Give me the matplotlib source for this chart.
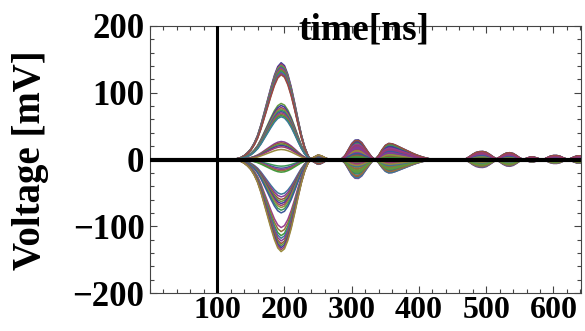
import matplotlib
matplotlib.use("Agg")
import matplotlib.pyplot as plt
from matplotlib.ticker import MultipleLocator
import numpy as np

plt.rcParams['font.family'] = ['Liberation Serif', 'DejaVu Serif']
plt.rcParams['font.weight'] = 'bold'

# time grid of the recorded waveforms [ns]
t = np.arange(0, 645, 5)

# pulse shapes (normalised), with the time they start at
main_start = 125
main_pulse = [0.0, 0.01, 0.02, 0.04, 0.07, 0.11, 0.17, 0.25, 0.36, 0.49,
              0.62, 0.75, 0.87, 0.96, 1.00, 0.97, 0.88, 0.75, 0.59, 0.42,
              0.26, 0.13, 0.04, -0.01, -0.03, -0.05, -0.04, -0.02, -0.005, 0.0]
lobe1_start = 280
lobe1 = [0.0, 0.03, 0.2, 0.5, 0.8, 0.97, 0.98, 0.85, 0.6, 0.35, 0.12, 0.0]
lobe2_start = 335
lobe2 = [0.0, 0.25, 0.6, 0.88, 1.0, 0.98, 0.9, 0.8, 0.7, 0.6, 0.5, 0.4,
         0.31, 0.23, 0.16, 0.1, 0.05, 0.02, 0.0]
tail_start = 465
tail = [0.0, 0.1, 0.35, 0.65, 0.88, 0.98, 1.0, 0.9, 0.65, 0.35,
        0.08, 0.3, 0.6, 0.8, 0.85, 0.75, 0.5, 0.2, 0.0, 0.15,
        0.3, 0.32, 0.2, 0.05, 0.0, 0.2, 0.4, 0.5, 0.5, 0.4,
        0.2, 0.05, 0.1, 0.3, 0.45, 0.45]

# per-waveform amplitudes [mV]
main_amp = [145, 143, 141, 140, 138, 137, 135, 133, 131, 129, 127,
            84, 81, 78, 76, 74, 72, 70, 68, 66, 64,
            27, 25, 23, 21, 19, 15,
            -10, -13, -15, -17, -19,
            -52, -56, -60, -63, -66, -69, -72, -76, -80,
            -102, -108, -114, -118, -122, -126, -129, -132, -135, -138]
lobe1_amp = [30, 22, -12, 15, 8, -20, 26, -5, 12, -29, 18,
             -15, 24, 5, -24, 10, 28, -8, 14, -18, 3,
             20, -26, 6, -10, 16, -3,
             25, -22, 11, -14, 2,
             -28, 19, 7, -17, 27, -6, 13, -21, 9,
             23, -25, 4, -11, 17, 29, -19, -2, 21, -9]
lobe2_amp = [24, 18, -10, 12, 6, -16, 21, -4, 9, -20, 15,
             -12, 20, 3, -18, 8, 23, -6, 11, -14, 2,
             16, -19, 5, -8, 13, -2,
             22, -17, 10, -11, 1,
             -20, 14, 4, -13, 19, -5, 7, -15, 12,
             17, -18, 3, -9, 10, 24, -14, -1, 15, -7]
tail_amp = [12, 8, -6, 5, 3, -9, 11, -2, 4, -12, 7,
            -7, 10, 2, -10, 4, 12, -3, 6, -8, 1,
            9, -11, 3, -4, 7, -1,
            10, -9, 5, -6, 1,
            -11, 8, 2, -7, 11, -3, 5, -9, 6,
            10, -10, 2, -5, 8, 12, -8, -1, 9, -4]

# old Mathematica default plot colours
colors = ['#3F3D99', '#993D71', '#998B3D', '#3D9956', '#3D5A99', '#993D90',
          '#996C3D', '#43993D', '#3D7999', '#843D99', '#994E3D', '#62993D']


def place(start, vals):
    arr = np.zeros(len(t))
    i = start // 5
    arr[i:i + len(vals)] = vals
    return arr


shape_main = place(main_start, main_pulse)
shape_l1 = place(lobe1_start, lobe1)
shape_l2 = place(lobe2_start, lobe2)
shape_tail = place(tail_start, tail)

fig = plt.figure(figsize=(5.85, 3.31), dpi=100)
ax = fig.add_axes([150 / 585, 1 - 293 / 331, 431 / 585, 267 / 331])

for k in range(len(main_amp)):
    v = (main_amp[k] * shape_main + lobe1_amp[k] * shape_l1
         + lobe2_amp[k] * shape_l2 + tail_amp[k] * shape_tail)
    ax.plot(t, v, color=colors[k % len(colors)], lw=1.1, zorder=2)

# axes through (100, 0)
ax.axhline(0, color='k', lw=3, zorder=3)
ax.axvline(100, color='k', lw=2.2, zorder=3)

ax.set_xlim(0, 641)
ax.set_ylim(-200, 200)
ax.set_xticks([100, 200, 300, 400, 500, 600])
ax.set_yticks([-200, -100, 0, 100, 200])
ax.xaxis.set_minor_locator(MultipleLocator(20))
ax.yaxis.set_minor_locator(MultipleLocator(20))
ax.tick_params(which='both', direction='in', top=True, right=True,
               width=0.8, color='#444444')
ax.tick_params(axis='x', which='major', labelsize=23, pad=2)
ax.tick_params(axis='y', which='major', labelsize=25, pad=4)
ax.tick_params(which='major', length=5)
ax.tick_params(which='minor', length=3)
for s in ax.spines.values():
    s.set_linewidth(0.8)
    s.set_color('#444444')

ax.text(0.497, 0.985, 'time[ns]', transform=ax.transAxes, ha='center',
        va='center', fontsize=27, fontweight='bold', zorder=5)
fig.text(31 / 585, 1 - 160 / 331, 'Voltage [mV]', rotation=90, ha='center',
         va='center', fontsize=28, fontweight='bold')

fig.savefig('out.png', dpi=100)
